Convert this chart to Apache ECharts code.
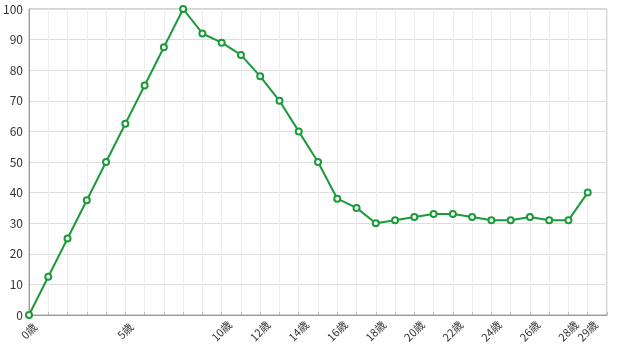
<!DOCTYPE html>
<html><head><meta charset="utf-8">
<script src="https://cdn.jsdelivr.net/npm/echarts@6/dist/echarts.min.js"></script>
<style>html,body{margin:0;padding:0;background:#fff}#c{width:620px;height:349px}</style>
</head><body><div id="c"></div>
<script>
var categories = [];
for (var i = 0; i <= 29; i++) categories.push(i + '歳');
categories.push('');
var shownLabels = ['0歳','5歳','10歳','12歳','14歳','16歳','18歳','20歳','22歳','24歳','26歳','28歳','29歳'];
var values = [0, 12.5, 25, 37.5, 50, 62.5, 75, 87.5, 100, 92, 89, 85, 78, 70, 60, 50, 38, 35, 30, 31, 32, 33, 33, 32, 31, 31, 32, 31, 31, 40];
var yTicks = [0, 10, 20, 30, 40, 50, 60, 70, 80, 90, 100];

var chart = echarts.init(document.getElementById('c'));
chart.setOption({
  animation: false,
  grid: {left: 29, top: 9, right: 13, bottom: 34, show: true, borderColor: '#aaa', borderWidth: 1},
  xAxis: {
    type: 'category', data: categories, boundaryGap: false,
    axisLine: {lineStyle: {color: '#999'}},
    axisTick: {show: true, interval: 0, length: 3, inside: true, lineStyle: {color: '#bbb'}},
    axisLabel: {
      interval: 0, rotate: 45, margin: 16, align: 'center', verticalAlign: 'middle',
      fontFamily: 'Noto Sans CJK JP', fontSize: 11, color: '#333',
      formatter: function (v) { return shownLabels.indexOf(v) >= 0 ? v : ''; }
    },
    splitLine: {show: true, interval: 0, lineStyle: {color: '#eee'}}
  },
  yAxis: {
    type: 'value', min: yTicks[0], max: yTicks[yTicks.length - 1], interval: 10,
    axisLine: {show: true, lineStyle: {color: '#999'}},
    axisTick: {show: false},
    axisLabel: {fontFamily: 'Noto Sans CJK JP', fontSize: 12, color: '#333', margin: 6},
    splitLine: {lineStyle: {color: '#ddd'}}
  },
  series: [{
    type: 'line', data: values,
    symbol: 'emptyCircle', symbolSize: 6,
    lineStyle: {color: '#1a9a3a', width: 2},
    itemStyle: {color: '#1a9a3a', borderWidth: 2}
  }]
});
</script></body></html>
